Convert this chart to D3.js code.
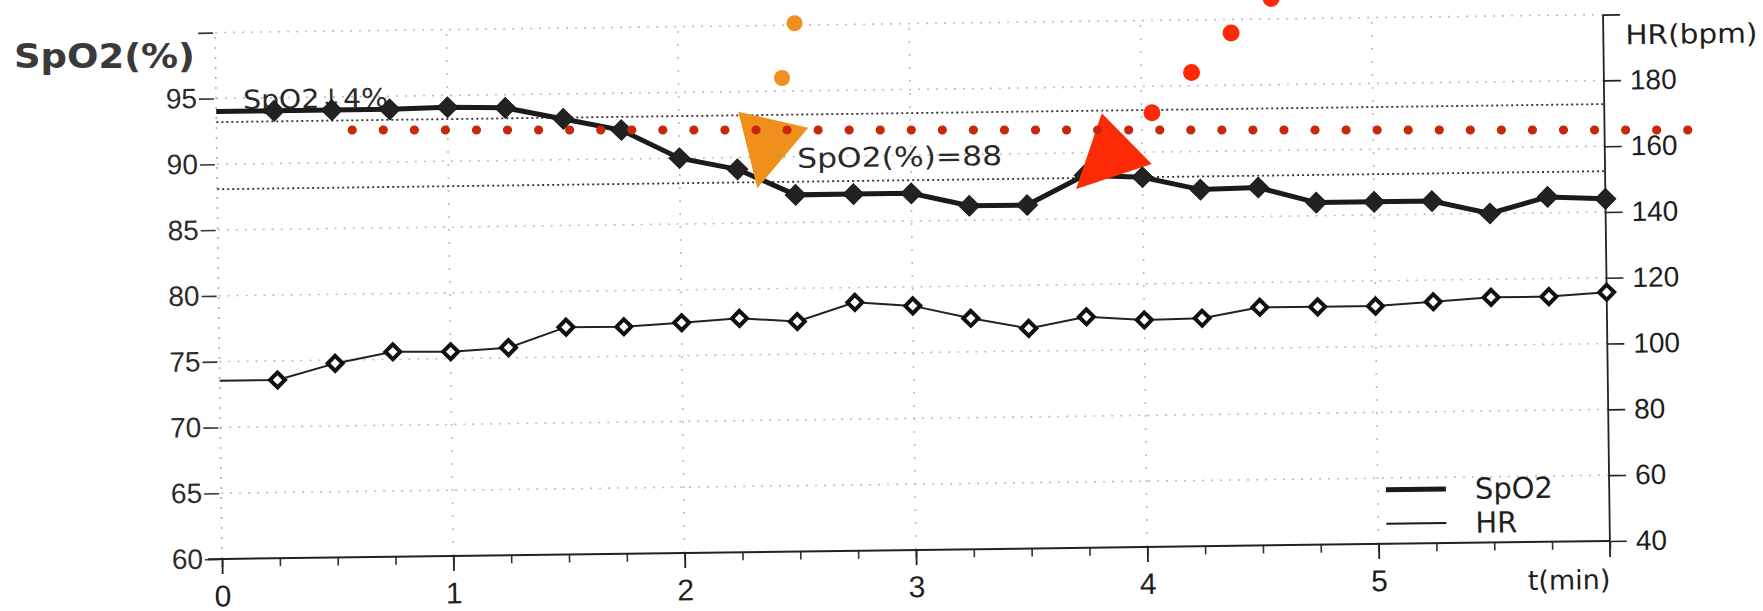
<!DOCTYPE html>
<html><head><meta charset="utf-8">
<script src="https://cdn.jsdelivr.net/npm/d3@7"></script>
<style>html,body{margin:0;padding:0;background:#fff;}svg{display:block;}</style>
</head><body>
<svg id="chart" width="1763" height="611"></svg>
<script>
// ---------- data ----------
const times = [0,0.25,0.5,0.75,1,1.25,1.5,1.75,2,2.25,2.5,2.75,3,3.25,3.5,3.75,4,4.25,4.5,4.75,5,5.25,5.5,5.75,6];
const spo2  = [94.0,94.0,94.0,94.0,94.1,94.0,93.1,92.2,90.0,89.1,87.1,87.1,87.1,86.1,86.1,88.3,88.1,87.1,87.2,86.0,86.0,86.0,85.0,86.2,86.0];
const hr    = [94.2,94.2,99.0,102.3,102.1,103.1,109.1,109.0,110.0,111.1,109.9,115.5,114.2,110.2,106.9,110.2,109.0,109.3,112.4,112.3,112.3,113.4,114.5,114.5,115.6];

const spo2Ticks = [60,65,70,75,80,85,90,95,100];
const hrTicks   = [40,60,80,100,120,140,160,180,200];
const timeTicks = [0,1,2,3,4,5];
const timeMinor = [0,0.25,0.5,0.75,1,1.25,1.5,1.75,2,2.25,2.5,2.75,3,3.25,3.5,3.75,4,4.25,4.5,4.75,5,5.25,5.5,5.75,6];
const refValues = [93.2, 88.1];
const refLabels = ["SpO2\u21934%", "SpO2(%)=88"];
const legendNames = ["SpO2", "HR"];

// overlay annotations (time, SpO2-units)
const orangeDots = [[2.475,100.71],[2.421,96.55]];
const redDots    = [[4.020,93.91],[4.191,96.97],[4.362,99.97],[4.535,102.59]];
const orangeTri  = [[2.232,93.99],[2.534,92.77],[2.314,88.17]];
const redTri     = [[3.803,93.87],[4.019,90.02],[3.692,88.12]];
const dottedLevel = [92.6];
const dottedSpan  = [0.563, 6.336];

// ---------- scales ----------
const svg = d3.select("#chart");
const x = d3.scaleLinear().domain([0,6]).range([222,1610]);
const yS = d3.scaleLinear().domain([60,100]).range([559,32.6]);
const yH = d3.scaleLinear().domain([40,200]).range([559,32.6]);

const NUM = "'Liberation Sans', Arial, sans-serif";
const TXT = "'DejaVu Sans', Verdana, sans-serif";

// title (unrotated)
svg.append("text").attr("x",14).attr("y",68)
  .attr("font-family",TXT).attr("font-weight","bold").attr("font-size",33)
  .attr("fill","#3a3a3a").attr("textLength",181).attr("lengthAdjust","spacingAndGlyphs")
  .text("SpO2(%)");

const g = svg.append("g").attr("transform",`rotate(-0.745,${x(0)},${yS(60)})`);

// ---------- grid ----------
g.append("g").selectAll("line").data(spo2Ticks.filter(d=>d>60)).join("line")
  .attr("x1",x(0)).attr("x2",x(6)).attr("y1",d=>yS(d)).attr("y2",d=>yS(d))
  .attr("stroke","#bdbdbd").attr("stroke-width",1.6).attr("stroke-dasharray","2,7");
g.append("g").selectAll("line").data(timeTicks.filter(d=>d>0)).join("line")
  .attr("x1",d=>x(d)).attr("x2",d=>x(d)).attr("y1",yS(60)).attr("y2",yS(100))
  .attr("stroke","#bdbdbd").attr("stroke-width",1.6).attr("stroke-dasharray","2,11");
// left axis as dotted line
g.append("line").attr("x1",x(0)).attr("x2",x(0)).attr("y1",yS(60)).attr("y2",yS(100))
  .attr("stroke","#b0b0b0").attr("stroke-width",1.6).attr("stroke-dasharray","2,8");

// reference lines
g.append("g").selectAll("line").data(refValues).join("line")
  .attr("x1",x(0)).attr("x2",x(6)).attr("y1",d=>yS(d)).attr("y2",d=>yS(d))
  .attr("stroke","#333").attr("stroke-width",1.8).attr("stroke-dasharray","2,3");
g.append("text").attr("x",x(0)+27).attr("y",yS(refValues[0])-13)
  .attr("font-family",TXT).attr("font-size",26).attr("fill","#2a2a2a")
  .attr("textLength",145).attr("lengthAdjust","spacingAndGlyphs").text(refLabels[0]);
g.append("text").attr("x",x(2.5)+2).attr("y",yS(refValues[1])-14)
  .attr("font-family",TXT).attr("font-size",27).attr("fill","#2a2a2a")
  .attr("textLength",205).attr("lengthAdjust","spacingAndGlyphs").text(refLabels[1]);

// ---------- axes ----------
const la = g.append("g").attr("transform",`translate(${x(0)},0)`)
  .call(d3.axisLeft(yS).tickValues(spo2Ticks).tickFormat(d=>d===100?"":d).tickSizeOuter(0).tickSizeInner(16).tickPadding(4));
la.select(".domain").remove();
la.selectAll(".tick line").attr("x1",-2).attr("x2",-17).attr("stroke","#333").attr("stroke-width",1.6);
la.selectAll(".tick text").attr("x",-19).attr("font-family",NUM).attr("font-size",28).attr("fill","#2b2b2b");

const ra = g.append("g").attr("transform",`translate(${x(6)},0)`)
  .call(d3.axisRight(yH).tickValues(hrTicks).tickFormat(d=>d===200?"":d).tickSizeOuter(0).tickSizeInner(17).tickPadding(9));
ra.select(".domain").remove();
ra.selectAll(".tick line").attr("stroke","#222").attr("stroke-width",1.6);
ra.selectAll(".tick text").attr("font-family",NUM).attr("font-size",28).attr("fill","#1e1e1e");
g.append("line").attr("x1",x(6)).attr("x2",x(6)).attr("y1",yH(200)).attr("y2",yH(40)+16)
  .attr("stroke","#222").attr("stroke-width",1.8);
g.append("text").attr("x",x(6)+22).attr("y",yH(200)+30)
  .attr("font-family",TXT).attr("font-size",27).attr("fill","#1e1e1e")
  .attr("textLength",132).attr("lengthAdjust","spacingAndGlyphs").text("HR(bpm)");

// x axis
const xaMinor = g.append("g").attr("transform",`translate(0,${yS(60)})`)
  .call(d3.axisBottom(x).tickValues(timeMinor).tickFormat("").tickSizeOuter(0).tickSizeInner(8));
xaMinor.select(".domain").remove();
xaMinor.selectAll(".tick line").attr("stroke","#333").attr("stroke-width",1.6);
const xa = g.append("g").attr("transform",`translate(0,${yS(60)})`)
  .call(d3.axisBottom(x).tickValues(timeTicks).tickFormat(d=>d).tickSizeOuter(0).tickSizeInner(15).tickPadding(11));
xa.select(".domain").remove();
xa.selectAll(".tick line").attr("stroke","#222").attr("stroke-width",1.8);
xa.selectAll(".tick text").attr("font-family",NUM).attr("font-size",30).attr("fill","#1e1e1e");
g.append("line").attr("x1",x(0)-14).attr("x2",x(6)).attr("y1",yS(60)).attr("y2",yS(60))
  .attr("stroke","#222").attr("stroke-width",2);
g.append("text").attr("x",x(6)).attr("y",yS(60)+48).attr("text-anchor","end")
  .attr("font-family",TXT).attr("font-size",27).attr("fill","#1e1e1e").text("t(min)");

// ---------- series ----------
const sp = times.map((t,i)=>({t,v:spo2[i]}));
const hp = times.map((t,i)=>({t,v:hr[i]}));
g.append("path").datum(hp).attr("fill","none").attr("stroke","#222").attr("stroke-width",2)
  .attr("d",d3.line().x(d=>x(d.t)).y(d=>yH(d.v)));
g.append("g").selectAll("path").data(hp.filter(d=>d.t>0)).join("path")
  .attr("d",d3.symbol(d3.symbolSquare,112))
  .attr("transform",d=>`translate(${x(d.t)},${yH(d.v)}) rotate(45)`)
  .attr("fill","#fff").attr("stroke","#111").attr("stroke-width",4);

g.append("path").datum(sp).attr("fill","none").attr("stroke","#1b1b1b").attr("stroke-width",5)
  .attr("d",d3.line().x(d=>x(d.t)).y(d=>yS(d.v)));
g.append("g").selectAll("path").data(sp.filter(d=>d.t>0)).join("path")
  .attr("d",d3.symbol(d3.symbolSquare,215))
  .attr("transform",d=>`translate(${x(d.t)},${yS(d.v)}) rotate(45)`)
  .attr("fill","#222").attr("stroke","#1a1a1a").attr("stroke-width",1);

// legend
const lgX = x(5)+8, lgY = yS(60)-54;
const lg = g.append("g");
lg.selectAll("line").data(legendNames).join("line")
  .attr("x1",lgX).attr("x2",lgX+60).attr("y1",(d,i)=>lgY+i*34).attr("y2",(d,i)=>lgY+i*34)
  .attr("stroke","#1a1a1a").attr("stroke-width",(d,i)=>i===0?5:2);
lg.selectAll("text").data(legendNames).join("text")
  .attr("x",lgX+89).attr("y",(d,i)=>lgY+i*34+10)
  .attr("font-family",TXT).attr("font-size",29).attr("fill","#1e1e1e").text(d=>d);

// ---------- overlay annotations (unrotated) ----------
const ov = svg.append("g");
const triPath = pts => "M" + pts.map(p=>`${x(p[0])},${yS(p[1])}`).join("L") + "Z";
ov.append("path").attr("d",triPath(orangeTri)).attr("fill","#f0901c");
ov.append("path").attr("d",triPath(redTri)).attr("fill","#fd2a06");
ov.append("line").attr("x1",x(dottedSpan[0])).attr("x2",x(dottedSpan[1]))
  .attr("y1",yS(dottedLevel[0])).attr("y2",yS(dottedLevel[0]))
  .attr("stroke","#c8280a").attr("stroke-width",9.2).attr("stroke-linecap","round")
  .attr("stroke-dasharray",`0,${(x(dottedSpan[1])-x(dottedSpan[0]))/43}`);
ov.selectAll("circle.o").data(orangeDots).join("circle").attr("class","o")
  .attr("cx",d=>x(d[0])).attr("cy",d=>yS(d[1])).attr("r",8).attr("fill","#f0911e");
ov.selectAll("circle.r").data(redDots).join("circle").attr("class","r")
  .attr("cx",d=>x(d[0])).attr("cy",d=>yS(d[1])).attr("r",8.5).attr("fill","#fd2a06");
</script>
</body></html>
